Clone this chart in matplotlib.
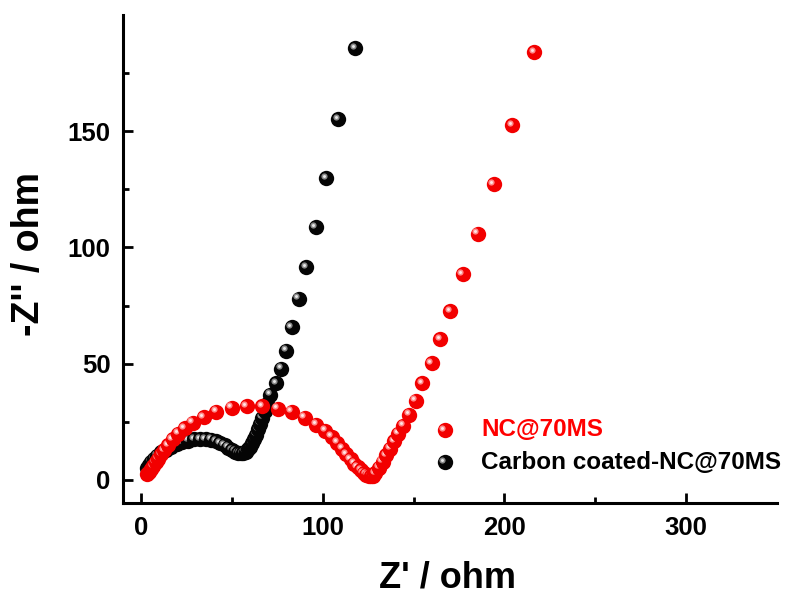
import matplotlib
matplotlib.use("Agg")
import matplotlib.pyplot as plt
from matplotlib.transforms import offset_copy

# Nyquist data, Z' and -Z'' in ohm
nc_zre = [3.5, 4.5, 5.5, 6.8, 8.0, 9.5, 11.0, 12.6, 14.8, 17.5, 20.5, 24.0,
          28.5, 34.5, 41.5, 49.8, 58.1, 66.8, 75.2, 82.8, 90.0, 96.3, 101.2,
          104.9, 107.9, 110.6, 113.0, 115.3, 117.4, 119.3, 121.0, 122.6,
          124.0, 125.3, 126.5, 127.6, 129.0, 131.0, 133.0, 135.0, 137.0,
          139.2, 141.6, 144.3, 147.6, 151.1, 154.8, 159.9, 164.5, 170.3,
          177.1, 185.3, 194.1, 204.4, 216.3]
nc_zim = [2.5, 3.6, 4.8, 6.0, 7.5, 9.2, 11.0, 12.8, 15.0, 17.4, 19.8, 22.2,
          24.6, 27.0, 29.3, 31.0, 31.7, 31.8, 30.7, 29.3, 26.8, 23.8, 21.2,
          18.6, 16.0, 13.4, 11.0, 8.9, 7.0, 5.4, 4.1, 3.0,
          2.3, 1.8, 1.6, 1.7, 3.0, 5.2, 7.8, 10.6, 13.5,
          16.6, 19.9, 23.4, 28.0, 34.0, 41.7, 50.3, 60.6, 72.5,
          88.4, 105.9, 127.2, 152.6, 183.9]

cc_zre = [3.5, 4.5, 5.7, 7.2, 9.0, 11.2, 13.7, 16.5, 19.5, 22.7, 26.0, 29.3,
          32.5, 35.6, 38.5, 41.2, 43.7, 46.0, 48.1, 50.0, 51.8, 53.4, 54.9,
          56.3, 57.6, 58.8, 60.0, 61.1, 62.2, 63.3, 64.4, 65.5, 66.7, 68.0,
          69.3, 70.9, 74.2, 77.0, 80.0, 82.8, 86.8, 91.0, 96.0, 102.0,
          108.6, 117.8]
cc_zim = [5.0, 6.5, 7.9, 9.2, 10.5, 11.8, 13.0, 14.2, 15.3, 16.2, 16.9, 17.4,
          17.6, 17.6, 17.3, 16.7, 15.9, 14.9, 13.9, 12.9, 12.1, 11.6, 11.4,
          11.6, 12.2, 13.1, 14.3, 15.8, 17.5, 19.5, 21.7, 24.1, 26.8, 29.8,
          32.5, 36.6, 41.7, 47.8, 55.6, 65.6, 78.0, 91.5, 108.8, 129.7,
          155.2, 185.8]

labels = ["NC@70MS", "Carbon coated-NC@70MS"]

plt.rcParams['font.family'] = ['Liberation Sans', 'DejaVu Sans']
plt.rcParams['font.weight'] = 'bold'

fig = plt.figure(figsize=(7.88, 5.99), dpi=100)
ax = fig.add_axes([0.156, 0.160, 0.830, 0.815])

# shaded "ball" markers: base disc, soft highlight, bright core
red_shades = ['#f20000', '#ff8c8c', '#ffe6e6']
black_shades = ['#050505', '#8a8a8a', '#e8e8e8']
SIZES = [122, 20, 4.5]


def draw_ball(x, y, shades, z, transform):
    hl = offset_copy(transform, fig=fig, x=-2.4, y=2.4, units='dots')
    ax.scatter([x], [y], s=SIZES[0], c=shades[0], lw=0, zorder=z,
               transform=transform, clip_on=False)
    ax.scatter([x], [y], s=SIZES[1], c=shades[1], lw=0, zorder=z + 0.01,
               transform=hl, clip_on=False)
    ax.scatter([x], [y], s=SIZES[2], c=shades[2], lw=0, zorder=z + 0.02,
               transform=hl, clip_on=False)


z = 3
for x, y in zip(cc_zre, cc_zim):
    draw_ball(x, y, black_shades, z, ax.transData)
    z += 0.05
for x, y in zip(nc_zre, nc_zim):
    draw_ball(x, y, red_shades, z, ax.transData)
    z += 0.05

# legend
draw_ball(0.492, 0.150, red_shades, z, ax.transAxes)
draw_ball(0.492, 0.084, black_shades, z, ax.transAxes)
ax.text(0.548, 0.150, labels[0], color='#ff0000', fontsize=17.5,
        fontweight='bold', va='center', ha='left', transform=ax.transAxes)
ax.text(0.548, 0.084, labels[1], color='black', fontsize=17.5,
        fontweight='bold', va='center', ha='left', transform=ax.transAxes)

ax.set_xlim(-10, 350)
ax.set_ylim(-10, 200)
ax.set_xticks([0, 100, 200, 300])
ax.set_xticks([50, 150, 250], minor=True)
ax.set_yticks([0, 50, 100, 150])
ax.set_yticks([25, 75, 125, 175], minor=True)

for side in ['top', 'right']:
    ax.spines[side].set_visible(False)
for side in ['left', 'bottom']:
    ax.spines[side].set_linewidth(2.2)

ax.tick_params(which='major', direction='in', length=7, width=2,
               labelsize=18.5, pad=9)
ax.tick_params(which='minor', direction='in', length=4, width=2)
for lbl in ax.get_xticklabels() + ax.get_yticklabels():
    lbl.set_fontweight('bold')

ax.set_xlabel("Z' / ohm", fontsize=26, fontweight='bold')
ax.set_ylabel("-Z'' / ohm", fontsize=27, fontweight='bold')
ax.xaxis.set_label_coords(0.497, -0.118)
ax.yaxis.set_label_coords(-0.116, 0.510)

fig.savefig("out.png", dpi=100)
